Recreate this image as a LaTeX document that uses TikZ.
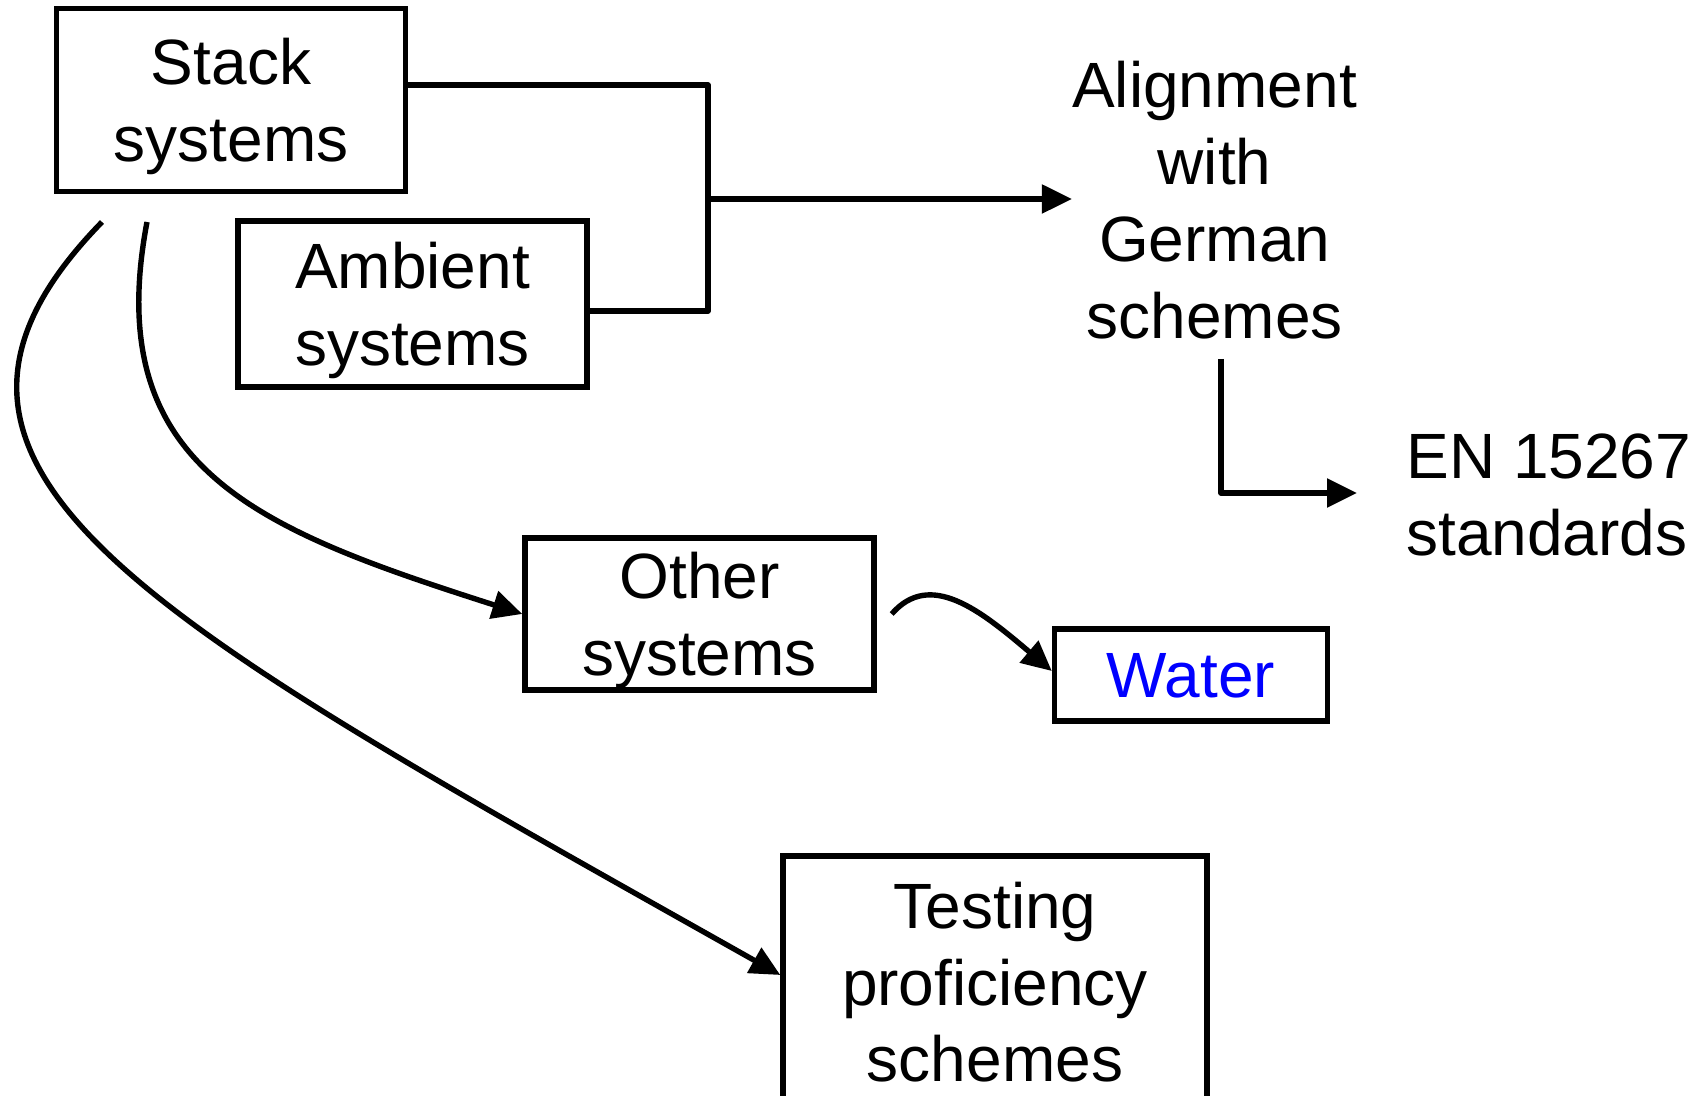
\documentclass[tikz,border=0pt]{standalone}
\usepackage{fontspec}
\setmainfont{Liberation Sans}
\usetikzlibrary{arrows.meta, positioning}
\definecolor{sink}{HTML}{000000}
\definecolor{swater}{HTML}{0000FF}
\tikzset{
  >=Triangle,
  font=\fontsize{32}{38.4}\selectfont,
  card/.style={
    draw=sink, line width=2.7pt, align=center, inner sep=0pt, text depth=0pt,
    minimum width=174.5pt, minimum height=#1
  },
  card/.default=80pt,
  txt/.style={align=center, inner sep=0pt},
  arr/.style={-{Triangle[length=15pt,width=14pt]}, line width=2.7pt, draw=sink, line join=round},
  link/.style={line width=2.7pt, draw=sink, line join=round}
}

\begin{document}
\begin{tikzpicture}[x=0.5pt, y=-0.5pt]
  \clip (0,0) rectangle (1705,1096);
  \node[card=91.5pt] (stack) at (231,100) {Stack\\systems};
  \node[card=83pt] (ambient) at (412.5,304) {Ambient\\systems};
  \node[card=76pt] (other) at (699.5,614) {Other\\systems};
  \node[card=46pt, minimum width=136.5pt, text=swater] (water) at (1191,675) {Water};
  \node[card=126pt, minimum width=212pt] (testing) at (995,982) {Testing\\proficiency\\schemes};
  \node[txt] (align) at (1214.6,200) {Alignment\\with\\German\\schemes};
  \node[txt, anchor=west, align=left] (en) at (1406,495) {EN 15267\\standards};

  \coordinate (join) at (708,199);
  \coordinate (astart) at (1221,359);
  \coordinate (s1) at (102,222);
  \coordinate (s2) at (147,222);

  \draw[link] ([yshift=7.5pt]stack.east) -| (join) |- ([yshift=-3.5pt]ambient.east);
  \draw[arr] (join) -- (join -| align.west);
  \draw[arr] (astart) |- ([xshift=-24.5pt,yshift=1pt]en.west);
  \draw[arr] (s1) .. controls (-140,470) and (150,620) .. ([yshift=3.5pt]testing.west);
  \draw[arr] (s2) .. controls (100,470) and (260,530) .. (other.west);
  \draw[arr] ([xshift=7.5pt]other.east) .. controls (930,570) and (980,610) .. ([yshift=2pt]water.west);
\end{tikzpicture}
\end{document}
